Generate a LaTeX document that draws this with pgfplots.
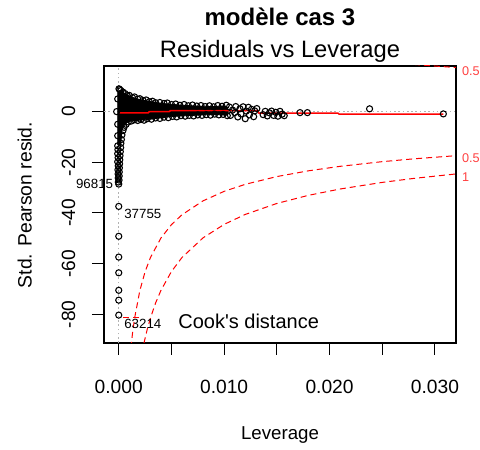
\documentclass[border=0pt]{standalone}
\usepackage{pgfplots}
\pgfplotsset{compat=1.18}
\usepackage{fontspec}
\setmainfont{Liberation Sans}

\begin{document}
\begin{tikzpicture}[x=1pt,y=1pt]
\useasboundingbox (0,0) rectangle (360,337.5);
% titles and axis labels (R base graphics layout)
\node[anchor=base, font=\bfseries\fontsize{18}{21}\selectfont] at (210,318) {modèle cas 3};
\node[anchor=base, font=\fontsize{17.8}{21}\selectfont] at (210,294.5) {Residuals vs Leverage};
\node[anchor=base, font=\fontsize{14}{16}\selectfont] at (210,7.5) {Leverage};
\node[anchor=base, rotate=90, font=\fontsize{14.5}{16}\selectfont] at (23.8,183.75) {Std. Pearson resid.};

\begin{axis}[
  at={(78pt,80.25pt)}, anchor=south west,
  scale only axis, width=264pt, height=207.75pt,
  xmin=-0.0014, xmax=0.0320, ymin=-91.3, ymax=18,
  axis line style={black, line width=0.9pt},
  xtick={0,0.005,0.01,0.015,0.02,0.025,0.03},
  xticklabels={0.000,,0.010,,0.020,,0.030},
  ytick={-80,-60,-40,-20,0},
  yticklabels={-80,-60,-40,-20,0},
  scaled x ticks=false, scaled y ticks=false,
  xtick pos=left, ytick pos=left,
  tick align=outside, major tick length=9pt,
  tick style={black, line width=0.75pt},
  xticklabel style={anchor=base, yshift=-28.7pt, font=\fontsize{14.4}{16}\selectfont},
  yticklabel style={xshift=-12.75pt, rotate=90, anchor=base, font=\fontsize{14.4}{16}\selectfont},
  clip=true,
]

% reference lines
\addplot[gray!60, line width=0.6pt, dash pattern=on 1.2pt off 2pt] coordinates {(-0.0014,0) (0.0320,0)};
\addplot[gray!60, line width=0.6pt, dash pattern=on 1.2pt off 2pt] coordinates {(0,-91.3) (0,18)};

% dense core of the point cloud
\addplot[fill=black, draw=black, line width=0.6pt] coordinates {
(-0.0001,7.5) (0.00005,8.3) (0.0003,7.9) (0.0007,6.8) (0.0011,6.0) (0.0016,5.2) (0.0022,4.6)
(0.0030,4.0) (0.0040,3.3) (0.0050,2.9) (0.0060,2.5) (0.0070,2.3) (0.0080,2.1)
(0.0090,2.0) (0.0100,2.2) (0.0103,1.8) (0.0104,0.5) (0.0103,-1.4)
(0.0095,-1.2) (0.0085,-1.2) (0.0070,-1.5) (0.0058,-1.7) (0.0045,-2.2)
(0.0030,-3.0) (0.0020,-3.4) (0.0012,-3.6) (0.0008,-4.3) (0.0005,-5.5)
(0.0003,-7.5) (0.00025,-10.0) (0.0002,-13.0) (-0.0001,-13.0) (-0.0001,-1.0)
} -- cycle;

% individual observations
\addplot[only marks, mark=o, mark size=2.3pt, black, line width=0.8pt] coordinates {
(0.00002,9.0) (0.0001,8.7) (0.0002,8.3) (0.0004,7.7) (0.0006,7.1) (0.0008,6.3)
(0.0010,6.4) (0.0013,5.5) (0.0015,5.8) (0.0018,4.9) (0.0020,5.1) (0.0023,4.4)
(0.0026,4.6) (0.0029,3.9) (0.0032,4.1) (0.0035,3.5) (0.0039,3.6) (0.0043,3.2)
(0.0046,3.4) (0.0050,2.8) (0.0054,3.0) (0.0058,2.5) (0.0062,2.8) (0.0066,2.3)
(0.0070,2.6) (0.0074,2.2) (0.0078,2.4) (0.0082,2.0) (0.0086,2.3) (0.0090,1.9)
(0.0094,2.4) (0.0098,2.1) (0.0102,2.5)
(0.0003,-9.2) (0.0004,-7.5) (0.0005,-6.2) (0.0007,-5.0) (0.0009,-4.1) (0.0012,-3.7)
(0.0015,-3.2) (0.0018,-3.5) (0.0021,-3.1) (0.0024,-3.4) (0.0027,-2.8) (0.0031,-3.0)
(0.0035,-2.5) (0.0039,-2.7) (0.0043,-2.2) (0.0047,-2.4) (0.0051,-1.9) (0.0055,-2.1)
(0.0059,-1.6) (0.0063,-1.8) (0.0067,-1.5) (0.0071,-1.7) (0.0075,-1.3) (0.0079,-1.5)
(0.0083,-1.2) (0.0087,-1.4) (0.0091,-1.0) (0.0095,-1.3) (0.0099,-1.1) (0.0103,-1.6)
(0.0105,1.8) (0.0106,-1.5) (0.0108,0.6) (0.0110,-0.4) (0.0111,2.0) (0.0113,-2.1)
(0.0115,1.1) (0.0116,-0.9) (0.0118,1.9) (0.0120,-2.8) (0.0121,0.2) (0.0123,1.7)
(0.0124,-1.3) (0.0126,0.9) (0.0128,-2.0) (0.0129,0.3) (0.0131,1.2)
(0.0137,-1.2) (0.0139,0.1) (0.0141,-1.7) (0.0143,-0.5) (0.0145,0.2) (0.0147,-1.5)
(0.0149,-0.3) (0.0151,-1.8) (0.0153,0.1) (0.0155,-1.0) (0.0157,-1.6)
(0.0172,-0.4) (0.0179,-0.4) (0.0238,1.1) (0.0308,-0.9)
(-0.0002,0.0) (-0.0001,5.0) (-0.0001,-5.0) (-0.0001,-9.5)
(0.00025,-11.0) (0.00020,-12.5) (-0.00010,-13.5) (0.00018,-14.2)
(-0.00008,-15.0) (0.00015,-15.8) (-0.00010,-16.6) (0.00012,-17.4) (-0.00006,-18.2)
(0.00010,-19.0) (-0.00010,-19.8) (0.00008,-20.6) (-0.00005,-21.4) (0.00006,-22.2)
(-0.00008,-23.0) (0.00005,-23.8) (-0.00006,-24.6) (0.00004,-25.4) (-0.00005,-26.2)
(0.00003,-27.0) (-0.00004,-27.8) (0.00000,-28.6)
(0,-37.4) (0,-49.2) (0,-57.4) (0,-63.6) (0,-70.5) (0,-74.4) (0,-80.3)
};

% smoother
\addplot[red, line width=1.1pt, no markers] coordinates {
(0.00005,-0.5) (0.0028,-0.5) (0.0029,0.0) (0.0048,0.0) (0.0049,0.4) (0.0132,0.4)
(0.0133,-0.6) (0.0208,-0.6) (0.0209,-1.0) (0.0308,-1.0)
};

% Cook's distance contours, p = 20
\addplot[red, line width=0.75pt, dash pattern=on 4.5pt off 3pt, no markers] coordinates {
(0.00115,-93.20) (0.0013,-87.65) (0.0015,-81.59) (0.002,-70.64) (0.0025,-63.17)
(0.003,-57.65) (0.004,-49.90) (0.005,-44.61) (0.006,-40.70) (0.008,-35.21)
(0.010,-31.46) (0.012,-28.69) (0.015,-25.63) (0.018,-23.36) (0.021,-21.59)
(0.025,-19.75) (0.028,-18.63) (0.032,-17.39)
};
\addplot[red, line width=0.75pt, dash pattern=on 4.5pt off 3pt, no markers] coordinates {
(0.0022,-95.24) (0.0024,-91.18) (0.0027,-85.95) (0.003,-81.53) (0.0035,-75.46)
(0.004,-70.57) (0.005,-63.09) (0.006,-57.56) (0.008,-49.80) (0.010,-44.50)
(0.012,-40.58) (0.015,-36.24) (0.018,-33.03) (0.021,-30.54) (0.025,-27.93)
(0.028,-26.35) (0.032,-24.60)
};
\addplot[red, line width=0.75pt, dash pattern=on 4.5pt off 3pt, no markers] coordinates {
(0.028,18.63) (0.029,18.30) (0.030,17.98) (0.031,17.68) (0.032,17.39)
};
% legend sample
\addplot[red, line width=0.75pt, dash pattern=on 4.5pt off 3pt, no markers] coordinates {
(0.00041,-81.1) (0.00221,-81.1)
};

\node[anchor=base west, inner sep=0pt, font=\fontsize{15}{17}\selectfont] at (axis cs:0.00563,-85.5) {Cook\textquotesingle s distance};

\end{axis}

% annotations outside the clipped region
\begin{axis}[
  at={(78pt,80.25pt)}, anchor=south west,
  scale only axis, width=264pt, height=207.75pt,
  xmin=-0.0014, xmax=0.0320, ymin=-91.3, ymax=18,
  hide axis, clip=false,
]
\node[anchor=base east, inner sep=0pt, font=\fontsize{10}{12}\selectfont] at (axis cs:-0.00051,-30.3) {96815};
\node[anchor=base west, inner sep=0pt, font=\fontsize{10}{12}\selectfont] at (axis cs:0.0005,-42.2) {37755};
\node[anchor=base west, inner sep=0pt, font=\fontsize{10}{12}\selectfont] at (axis cs:0.0005,-85.6) {63214};
\node[anchor=base west, inner sep=0pt, text=red!75, font=\fontsize{9.5}{11}\selectfont] at (axis cs:0.03256,14.2) {0.5};
\node[anchor=base west, inner sep=0pt, text=red!75, font=\fontsize{9.5}{11}\selectfont] at (axis cs:0.03256,-19.9) {0.5};
\node[anchor=base west, inner sep=0pt, text=red!75, font=\fontsize{9.5}{11}\selectfont] at (axis cs:0.03256,-27.4) {1};
\end{axis}
\end{tikzpicture}
\end{document}
